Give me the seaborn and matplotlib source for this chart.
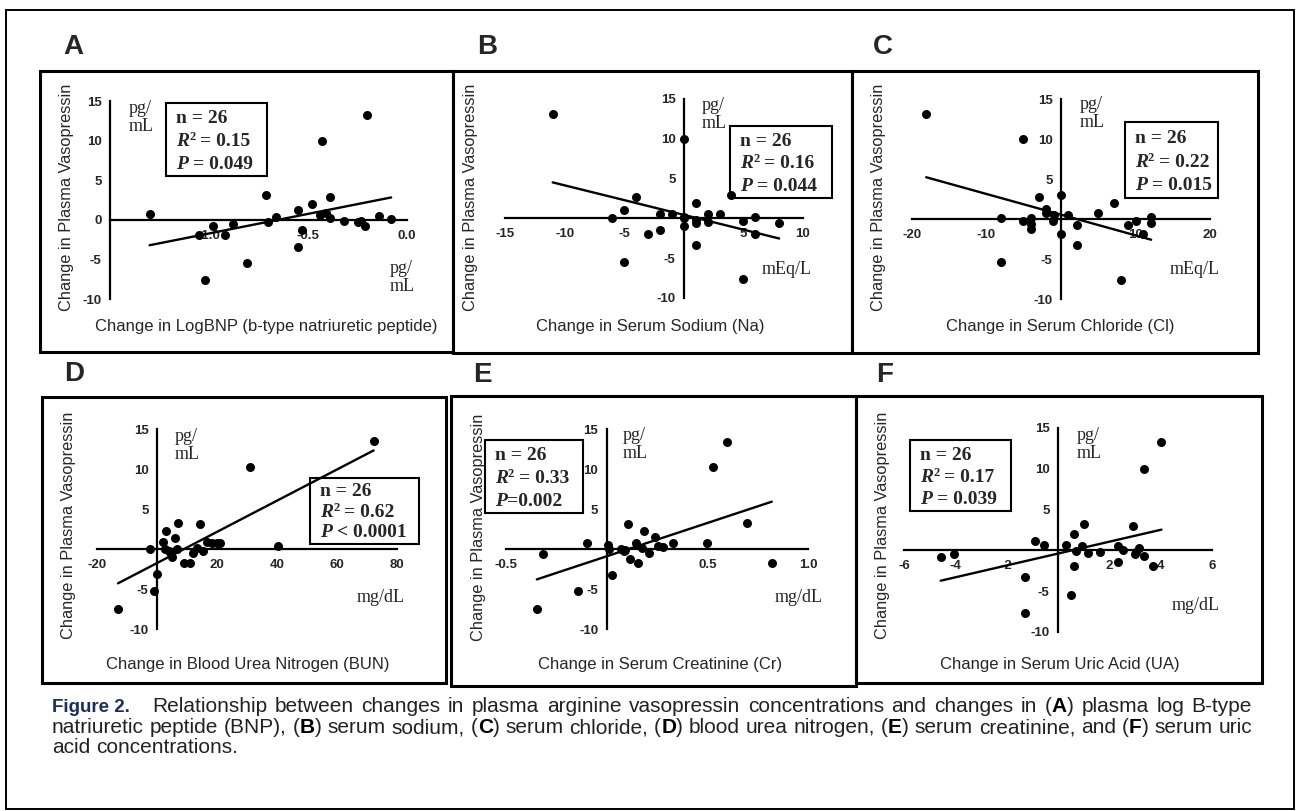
import matplotlib
matplotlib.use("Agg")
import matplotlib.pyplot as plt
import seaborn as sns
import numpy as np
from matplotlib.patches import Rectangle

# ---------------- data ----------------
a_x = [-1.30, -1.05, -1.02, -0.98, -0.92, -0.88, -0.81, -0.71, -0.70, -0.66, -0.55, -0.55, -0.53,
       -0.48, -0.43, -0.44, -0.41, -0.39, -0.39, -0.32, -0.25, -0.23, -0.21, -0.20, -0.14, -0.08]
a_y = [0.7, -1.9, -7.6, -0.8, -1.9, -0.5, -5.4, 3.1, -0.3, 0.4, 1.3, -3.4, -1.3,
       2.0, 10.0, 0.6, 0.8, 2.9, 0.2, -0.1, -0.3, -0.2, -0.8, 13.2, 0.5, 0.1]

b_x = [-11, 0, -6, -5, -4, -5, -3, -2, -2, -1, 0, 0, 1, 1, 1, 2, 2, 3, 4, 5, 5, 6, 6, 8, 0, 1]
b_y = [13.1, 10.0, 0.1, 1.0, 2.7, -5.5, -2.0, -1.5, 0.5, 0.6, 0.2, -0.9, 1.9,
       -0.6, -3.4, 0.6, -0.4, 0.5, 2.9, -0.3, -7.6, 0.2, -2.0, -0.6, 0.0, -0.2]

c_x = [-18.1, -8, -8, -5.1, -5.1, -4, -4, -4, -3, -2, -2, -1, -1.1, 0, 0, 1, 2.1, 2.1,
       5, 7.1, 8, 9, 10, 11, 12.1, 12.1]
c_y = [13.1, 0.1, -5.4, -0.2, 10.0, 0.1, -0.6, -1.3, 2.8, 1.2, 0.7, 0.5, -0.2, 3.0, -1.9,
       0.5, -0.7, -3.3, 0.7, 2.0, -7.6, -0.8, -0.2, -1.9, 0.3, -0.5]

d_x = [-13, -2.2, -1.1, 0, 2, 2.8, 3, 3.9, 5, 6.1, 6.7, 7, 8.9, 11.1, 12, 13.3, 14.2,
       15.2, 16.7, 18.3, 20, 21.1, 31.1, 40.2, 72.2, 4.5]
d_y = [-7.5, 0.0, -5.2, -3.1, 0.9, 0.0, 2.2, -0.3, -1.0, 1.4, 0.0, 3.3, -1.7, -1.7, -0.5,
       0.1, 3.1, -0.3, 0.9, 0.8, 0.8, 0.8, 10.2, 0.4, 13.5, -0.6]

e_x = [-0.347, -0.315, -0.143, -0.10, 0.005, 0.014, 0.026, 0.073, 0.085, 0.104, 0.116, 0.147,
       0.158, 0.175, 0.187, 0.21, 0.24, 0.257, 0.28, 0.33, 0.50, 0.528, 0.60, 0.695, 0.82, 0.09]
e_y = [-7.5, -0.6, -5.3, 0.8, 0.5, 0.0, -3.2, 0.0, -0.3, 3.1, -1.2, 0.8, -1.8, 0.1, 2.2,
       -0.5, 1.5, 0.4, 0.2, 0.8, 0.8, 10.2, 13.4, 3.2, -1.8, -0.1]

f_x = [-4.57, -4.06, -1.27, -1.27, -0.88, -0.56, 0.32, 0.51, 0.64, 0.64, 0.71, 0.94, 1.03,
       1.16, 1.62, 2.34, 2.34, 2.53, 2.92, 3.0, 3.14, 3.35, 3.34, 3.7, 4.03, 3.05]
f_y = [-0.8, -0.4, -3.3, -7.7, 1.2, 0.7, 0.7, -5.5, 2.0, -1.9, -0.1, 0.6, 3.2, -0.3, -0.2,
       0.6, -1.4, 0.1, 3.0, -0.5, 0.3, 10.0, -0.7, -1.9, 13.3, -0.2]

letters = ["A", "B", "C", "D", "E", "F"]
x_labels = ["Change in LogBNP (b-type natriuretic peptide)", "Change in Serum Sodium (Na)",
            "Change in Serum Chloride (Cl)", "Change in Blood Urea Nitrogen (BUN)",
            "Change in Serum Creatinine (Cr)", "Change in Serum Uric Acid (UA)"]
y_label = "Change in Plasma Vasopressin"
x_units = ["pg/\nmL", "mEq/L", "mEq/L", "mg/dL", "mg/dL", "mg/dL"]
n_text = "n = 26"
r2_text = ["= 0.15", "= 0.16", "= 0.22", "= 0.62", "= 0.33", "= 0.17"]
p_text = ["= 0.049", "= 0.044", "= 0.015", "< 0.0001", "=0.002", "= 0.039"]

x_lims = [(-1.5, 0.0), (-15, 10), (-20, 20), (-20, 80), (-0.5, 1.0), (-6, 6)]
x_ticks = [[-1.0, -0.5, 0.0], [-15, -10, -5, 5, 10], [-20, -10, 10, 20],
           [-20, 20, 40, 60, 80], [-0.5, 0.5, 1.0], [-6, -4, -2, 2, 4, 6]]
x_ticklabels = [["-1.0", "-0.5", "0.0"], ["-15", "-10", "-5", "5", "10"], ["-20", "-10", "10", "20"],
                ["-20", "20", "40", "60", "80"], ["-0.5", "0.5", "1.0"], ["-6", "-4", "-2", "2", "4", "6"]]
y_ticks_a = [-10, -5, 0, 5, 10, 15]
y_ticks = [-10, -5, 5, 10, 15]

caption_label = "Figure 2."
caption_lines = [
    "Relationship between changes in plasma arginine vasopressin concentrations and changes in (*A*) plasma log B-type",
    "natriuretic peptide (BNP), (*B*) serum sodium, (*C*) serum chloride, (*D*) blood urea nitrogen, (*E*) serum creatinine, and (*F*) serum uric",
    "acid concentrations.",
]

# ---------------- layout (pixels in the 1297x811 picture) ----------------
W, H = 1297, 811
SANS = ["Liberation Sans", "DejaVu Sans"]
SERIF = ["Liberation Serif", "DejaVu Serif"]

sns.set_style("white")
plt.rcParams["font.family"] = SANS
plt.rcParams["axes.unicode_minus"] = False

fig = plt.figure(figsize=(W / 100, H / 100), dpi=100)
renderer = fig.canvas.get_renderer()


def fx(px):
    return px / W


def fy(py):
    return 1 - py / H


def box(l, t, r, b, lw):
    fig.add_artist(Rectangle((fx(l), fy(b)), fx(r) - fx(l), fy(t) - fy(b),
                             transform=fig.transFigure, fill=False, lw=lw, ec="black"))


def width_of(s, **kw):
    t = fig.text(0, 0, s, **kw)
    w = t.get_window_extent(renderer).width
    t.remove()
    return w


def seg_line(x, y, parts, **base):
    # parts: (text, extra kwargs, space before)
    gap = width_of("x x", **base) - 2 * width_of("x", **base)
    for s, kw, sp in parts:
        if sp:
            x += gap
        opts = dict(base)
        opts.update(kw)
        dy = opts.pop("dy", 0)
        t = fig.text(fx(x), fy(y - dy), s, ha="left", va="baseline", **opts)
        x += t.get_window_extent(renderer).width
    return x


def word_pieces(word, bold_kw):
    # "(*A*)" -> [("(", {}), ("A", bold), (")", {})]
    pieces = []
    for k, chunk in enumerate(word.split("*")):
        if chunk:
            pieces.append((chunk, bold_kw if k % 2 else {}))
    return pieces


def justify(x0, x1, y, line, bold_kw, stretch=True, **base):
    words = [word_pieces(w, bold_kw) for w in line.split(" ")]
    widths = []
    for pcs in words:
        widths.append(sum(width_of(s, **{**base, **kw}) for s, kw in pcs))
    natural = width_of("x x", **base) - 2 * width_of("x", **base)
    gap = (x1 - x0 - sum(widths)) / (len(words) - 1) if stretch else natural
    x = x0
    for pcs, w in zip(words, widths):
        xx = x
        for s, kw in pcs:
            t = fig.text(fx(xx), fy(y), s, ha="left", va="baseline", **{**base, **kw})
            xx += t.get_window_extent(renderer).width
        x += w + gap


# outer frame
box(6, 10, 1294, 809, 1.4)

panel_boxes = [(40, 71, 453, 352), (453, 71, 852, 353), (852, 71, 1258, 353),
               (42, 397, 446, 683), (451, 396, 856, 686), (856, 396, 1262, 683)]
axes_rects = [(110, 101, 407, 299), (505, 99, 803, 298), (912, 99, 1210, 299),
              (97, 429, 397, 629), (506, 429, 808, 629), (904, 428, 1212, 632)]
letter_pos = [(73, 47), (487, 47), (883, 47), (74, 374), (482, 375), (885, 375)]
ylabel_pos = [(67, 197), (470, 197), (878, 197), (68, 525), (478, 527), (883, 525)]
xlabel_pos = [(266, 327), (650, 327), (1060, 327), (248, 664), (660, 664), (1060, 664)]
pg_pos = [(129, 100), (702, 97), (1080, 96), (175, 428), (623, 427), (1077, 427)]
unit_pos = [(390, 260), (762, 270), (1170, 270), (357, 598), (775, 598), (1172, 605)]
stat_boxes = [(166, 103, 267, 176), (730, 126, 832, 198), (1125, 122, 1218, 198),
              (310, 478, 419, 544), (485, 440, 583, 513), (910, 440, 1011, 511)]

datasets = [(a_x, a_y), (b_x, b_y), (c_x, c_y), (d_x, d_y), (e_x, e_y), (f_x, f_y)]

for i, (xs, ys) in enumerate(datasets):
    l, t, r, b = panel_boxes[i]
    box(l, t, r, b, 2.2)

    al, at, ar, ab = axes_rects[i]
    ax = fig.add_axes([fx(al), fy(ab), fx(ar) - fx(al), fy(at) - fy(ab)])
    sns.regplot(x=np.array(xs), y=np.array(ys), ax=ax, ci=None, color="black",
                scatter_kws=dict(s=42, linewidths=0, clip_on=False, alpha=1),
                line_kws=dict(lw=1.7, clip_on=False))
    ax.set_facecolor("none")
    ax.set_xlim(x_lims[i])
    ax.set_ylim(-10, 15)
    for side in ["top", "right"]:
        ax.spines[side].set_visible(False)
    if i > 0:
        ax.spines["left"].set_position(("data", 0))
    ax.spines["bottom"].set_position(("data", 0))
    for side in ["left", "bottom"]:
        ax.spines[side].set_linewidth(1.6)
        ax.spines[side].set_color("black")
    ax.set_xticks(x_ticks[i], labels=x_ticklabels[i])
    ax.set_yticks(y_ticks_a if i == 0 else y_ticks)
    ax.tick_params(direction="out", length=4, width=1.5, color="black", labelsize=9.5, pad=2)
    ax.tick_params(axis="x", pad=3)
    for lab in ax.get_xticklabels() + ax.get_yticklabels():
        lab.set_fontweight("bold")
    ax.set_xlabel("")
    ax.set_ylabel("")

    # panel letter and axis titles
    fig.text(fx(letter_pos[i][0]), fy(letter_pos[i][1]), letters[i], fontsize=20,
             fontweight="bold", ha="center", va="center")
    fig.text(fx(ylabel_pos[i][0]), fy(ylabel_pos[i][1]), y_label, rotation=90,
             fontsize=11.8, ha="center", va="center")
    fig.text(fx(xlabel_pos[i][0]), fy(xlabel_pos[i][1]), x_labels[i],
             fontsize=12, ha="center", va="center")

    # units
    fig.text(fx(pg_pos[i][0]), fy(pg_pos[i][1]), "pg/\nmL", family=SERIF, fontsize=13,
             ha="left", va="top", linespacing=1.05)
    fig.text(fx(unit_pos[i][0]), fy(unit_pos[i][1]), x_units[i], family=SERIF, fontsize=13,
             ha="left", va="top" if i == 0 else "center", linespacing=1.05)

    # statistics box
    sl, st, sr, sb = stat_boxes[i]
    box(sl, st, sr, sb, 1.5)
    h = sb - st
    tx = sl + 10
    base = dict(family=SERIF, fontsize=14, fontweight="bold")
    seg_line(tx, st + 0.28 * h, [(n_text, {}, False)], **base)
    seg_line(tx, st + 0.59 * h, [("R", dict(style="italic"), False),
                                 ("2", dict(fontsize=9, dy=6), False),
                                 (r2_text[i], {}, True)], **base)
    seg_line(tx, st + 0.90 * h, [("P", dict(style="italic"), False),
                                 (p_text[i], {}, not p_text[i].startswith("=0"))], **base)

# ---------------- caption (justified like the journal page) ----------------
cap = dict(family=SANS, fontsize=15, color="#222222")
bold = dict(fontweight="bold", color="black")
fig.text(fx(52), fy(712), caption_label, ha="left", va="baseline", family=SANS, fontsize=13.5,
         fontweight="bold", color="#1b2f5c")
justify(152, 1252, 712, caption_lines[0], bold, **cap)
justify(52, 1252, 733, caption_lines[1], bold, **cap)
justify(52, 1252, 753, caption_lines[2], bold, stretch=False, **cap)

fig.savefig("out.png", dpi=100)
